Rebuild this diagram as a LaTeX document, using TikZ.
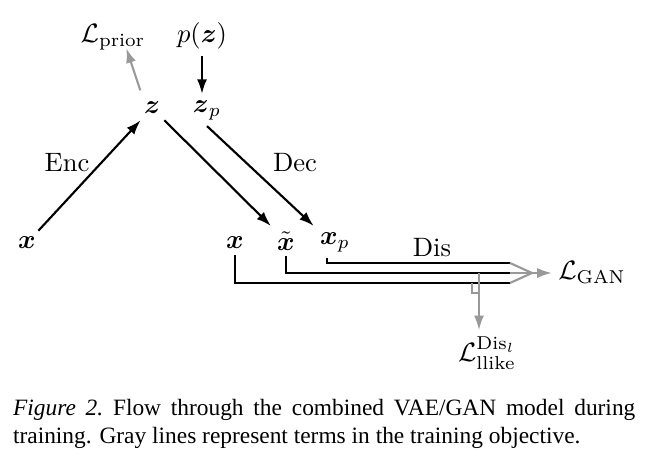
\documentclass[tikz,border=0pt]{standalone}
\usepackage{amsmath}
\usepackage{fontspec}
\usetikzlibrary{arrows.meta}
\newfontfamily\capfont{Liberation Serif}
\tikzset{
  var/.style={inner sep=2pt},
  loss/.style={draw=black!40},
}

\begin{document}
\begin{tikzpicture}[x=0.376pt, y=-0.376pt, thick, >={Latex[length=5.5pt,width=3.8pt]}]
  \useasboundingbox (0,0) rectangle (650,470);
  % latent part
  \node[var] (lprior) at (113,37) {$\mathcal{L}_{\text{prior}}$};
  \node[var] (pz) at (202,36) {$p(\boldsymbol{z})$};
  \node[var] (z) at (152,108) {$\boldsymbol{z}$};
  \node[var] (zp) at (207,110) {$\boldsymbol{z}_p$};
  \node[var] (xin) at (27,243) {$\boldsymbol{x}$};
  \node[var] (xr) at (235,243) {$\boldsymbol{x}$};
  \node[var] (xt) at (286,241) {$\tilde{\boldsymbol{x}}$};
  \node[var] (xp) at (335,242) {$\boldsymbol{x}_p$};
  \node[var] (lgan) at (592,273) {$\mathcal{L}_{\text{GAN}}$};
  \node[var] (llike) at (487,353) {$\mathcal{L}_{\text{llike}}^{\text{Dis}_l}$};
  \node (enc) at (67,163) {Enc};
  \node (dec) at (295,163) {Dec};
  \node (dis) at (432,248) {Dis};
  \coordinate (top) at (510,263);
  \coordinate (mid) at (510,273);
  \coordinate (bot) at (510,283);
  \coordinate (tip) at (532,273);
  \coordinate (split) at (479,273);
  \draw[->] (xin) -- (z);
  \draw[->] (pz) -- (pz |- zp.north);
  \draw[->] (z) -- (xt);
  \draw[->] (zp.south) -- (xp.north west);
  \draw[loss, ->] ([xshift=1pt,yshift=2pt]z.north west) -- ([xshift=5pt,yshift=3pt]lprior.south);
  % discriminator
  \draw (xr) |- (bot);
  \draw (xt) |- (mid);
  \draw ([xshift=-3pt]xp.south) |- (top);
  \draw[loss] (top) -- (tip) -- (bot);
  \draw[loss] (mid) -- (tip);
  \draw[loss, ->] (tip) -- (lgan);
  \draw[loss, ->] (split) -- (split |- llike.north);
  \draw[loss, thin] (472,283) -- (472,293) -- (split |- 472,293);
  % caption
  \node[anchor=north west, inner sep=0pt, text width=234pt, align=justify,
        font=\capfont\fontsize{8.8}{10.5}\selectfont] (cap) at (12,398)
    {\textit{Figure 2.}\ Flow through the combined VAE/GAN model during training. Gray lines represent terms in the training objective.};
\end{tikzpicture}
\end{document}
